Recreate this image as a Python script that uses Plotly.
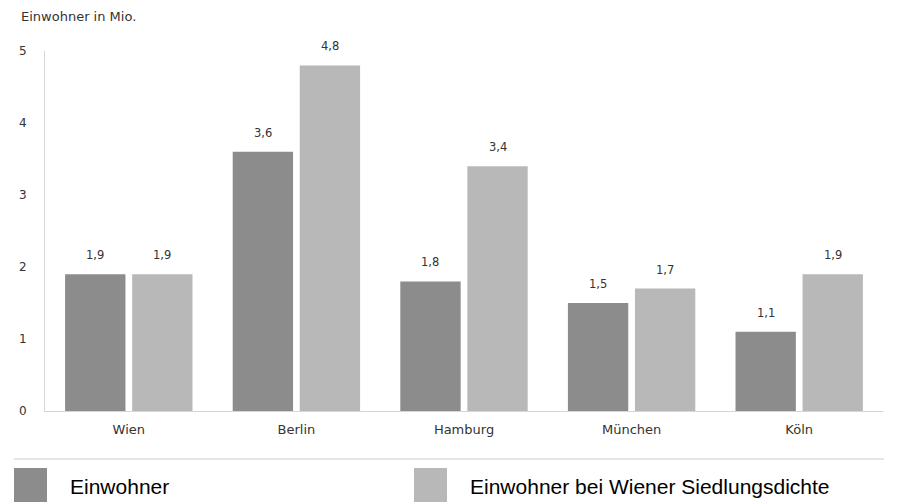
import plotly.graph_objects as go

cities = ["Wien", "Berlin", "Hamburg", "München", "Köln"]
einwohner = [1.9, 3.6, 1.8, 1.5, 1.1]
einwohner_dichte = [1.9, 4.8, 3.4, 1.7, 1.9]
series_names = ["Einwohner", "Einwohner bei Wiener Siedlungsdichte"]
colors = ["#8c8c8c", "#b8b8b8"]
y_ticks = [0, 1, 2, 3, 4, 5]

FONT = "DejaVu Sans, Verdana, sans-serif"
fig = go.Figure()
for name, vals, col in zip(series_names, [einwohner, einwohner_dichte], colors):
    fig.add_trace(go.Bar(x=cities, y=vals, name=name, marker_color=col,
                         marker_line_width=0, showlegend=False))

txtfont = dict(family=FONT, size=11.5, color="#333333")

# value labels
for i, vals in enumerate([einwohner, einwohner_dichte]):
    for j, (c, v) in enumerate(zip(cities, vals)):
        fig.add_annotation(x=j + (-0.2 if i == 0 else 0.2), y=v, xref="x", yref="y",
                           text=f"{v:.1f}".replace(".", ","), showarrow=False,
                           yshift=19, font=txtfont)

fig.update_layout(
    width=898, height=502,
    margin=dict(l=45, r=15, t=51, b=91),
    plot_bgcolor="white", paper_bgcolor="white",
    bargap=0.2, bargroupgap=0.1, barmode="group",
    font=txtfont,
    xaxis=dict(showline=True, linecolor="#d6d6d6", linewidth=1, showgrid=False,
               ticks="", ticklabelstandoff=6, tickfont=dict(family=FONT, size=13, color="#333333"),
               fixedrange=True),
    yaxis=dict(range=[0, 5], tickvals=y_ticks, showline=True, linecolor="#d6d6d6",
               linewidth=1, showgrid=False, zeroline=False, ticks="",
               ticklabelstandoff=15, tickfont=dict(family=FONT, size=12, color="#333333")),
)

fig.add_annotation(text="Einwohner in Mio.", xref="paper", yref="paper",
                   x=(19-45)/838, y=1 + 34/360, xanchor="left", yanchor="middle",
                   showarrow=False, font=dict(family=FONT, size=13, color="#333333"))

# legend divider line
fig.add_shape(type="line", xref="paper", yref="paper",
              x0=(14-45)/838, x1=(884-45)/838, y0=-(459-411)/360, y1=-(459-411)/360,
              line=dict(color="#cccccc", width=1))

# custom legend
leg_x = [14, 414]
for name, col, lx in zip(series_names, colors, leg_x):
    fig.add_shape(type="rect", xref="paper", yref="paper",
                  x0=(lx-45)/838, x1=(lx+33-45)/838,
                  y0=-(502-411)/360, y1=-(468-411)/360,
                  fillcolor=col, line_width=0)
    fig.add_annotation(text=name, xref="paper", yref="paper",
                       x=(lx+54-45)/838, y=-(487-411)/360, xanchor="left", yanchor="middle",
                       showarrow=False,
                       font=dict(family="Liberation Sans, Arial, sans-serif", size=21, color="#000000"))

fig.write_html("out.html")
